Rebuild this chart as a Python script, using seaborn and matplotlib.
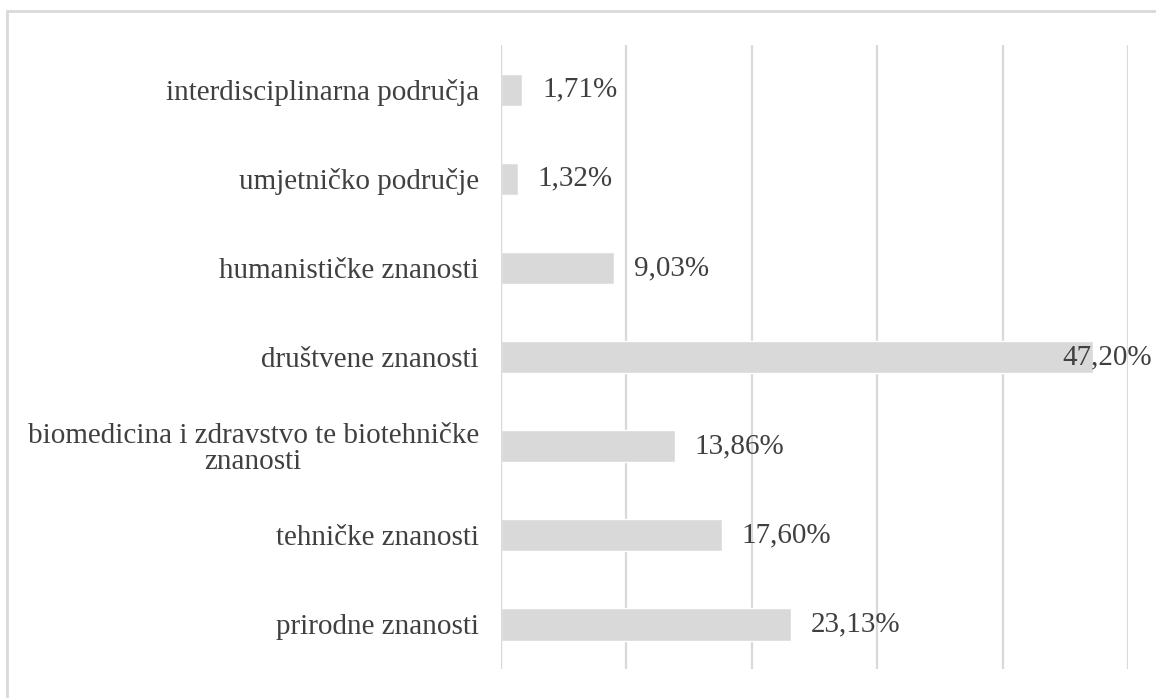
import matplotlib.pyplot as plt
import matplotlib.patches as mpatches
import seaborn as sns

# -------- data --------
categories = [
    "interdisciplinarna područja",
    "umjetničko područje",
    "humanističke znanosti",
    "društvene znanosti",
    "biomedicina i zdravstvo te biotehničke\nznanosti",
    "tehničke znanosti",
    "prirodne znanosti",
]
shares = [1.71, 1.32, 9.03, 47.20, 13.86, 17.60, 23.13]
x_ticks = [0, 10, 20, 30, 40, 50]

# -------- settings --------
BAR_COLOR = "#d9d9d9"
GRID_COLOR = "#d9d9d9"
TEXT_COLOR = "#404040"
FONT_SIZE = 21

sns.set_theme(style="white")
plt.rcParams["font.family"] = ["Liberation Serif", "DejaVu Serif"]

fig = plt.figure(figsize=(11.56, 6.98), dpi=100)
ax = fig.add_axes([0.4334, 0.0415, 0.5424, 0.894])

sns.barplot(x=shares, y=categories, orient="h", color=BAR_COLOR,
            width=0.36, saturation=1, ax=ax)

ax.set_xlim(0, 50)
ax.set_ylim(6.5, -0.5)
ax.set_xticks(x_ticks)
ax.set_xticklabels([])
ax.set_xlabel("")
ax.set_ylabel("")
ax.grid(True, axis="x", color=GRID_COLOR, linewidth=1.6)
ax.set_axisbelow(True)
ax.axvline(0, color=GRID_COLOR, linewidth=1.6, zorder=3)
ax.tick_params(axis="both", length=0)
ax.tick_params(axis="y", pad=16, labelsize=FONT_SIZE, labelcolor=TEXT_COLOR)
for lbl in ax.get_yticklabels():
    lbl.set_multialignment("center")
    lbl.set_linespacing(1.0)
for s in ax.spines.values():
    s.set_visible(False)

# value labels, pushed back inside when there is no room at the end
for i, v in enumerate(shares):
    txt = f"{v:.2f}".replace(".", ",") + "%"
    ax.text(min(v + 1.6, 44.8), i, txt, ha="left", va="center",
            fontsize=FONT_SIZE, color=TEXT_COLOR, clip_on=False)

# light chart frame
frame = mpatches.Rectangle((0.006, -0.05), 1.1, 0.034 + 1.0,
                           transform=fig.transFigure, fill=False,
                           edgecolor=GRID_COLOR, linewidth=2)
fig.patches.append(frame)

fig.savefig("out.png", dpi=100)
